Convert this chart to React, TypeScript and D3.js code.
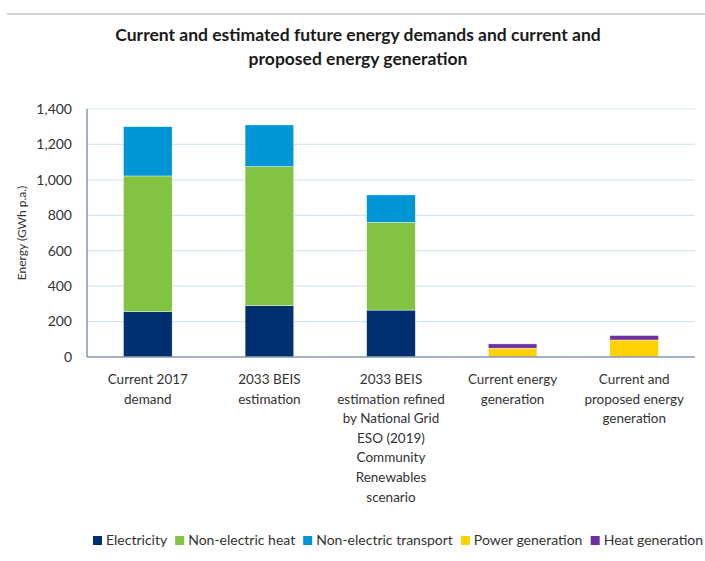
import { useMemo } from "react";
import * as d3 from "d3";

const categories = ["demand2017", "beis2033", "beisRefined", "currentGen", "proposedGen"];
const categoryLabels = [
  ["Current 2017", "demand"],
  ["2033 BEIS", "estimation"],
  ["2033 BEIS", "estimation refined", "by National Grid", "ESO (2019)", "Community", "Renewables", "scenario"],
  ["Current energy", "generation"],
  ["Current and", "proposed energy", "generation"],
];

const electricity = [256, 290, 265, 0, 0];
const nonElectricHeat = [766, 785, 495, 0, 0];
const nonElectricTransport = [278, 235, 155, 0, 0];
const powerGeneration = [0, 0, 0, 50, 96];
const heatGeneration = [0, 0, 0, 24, 25];

const seriesKeys = ["electricity", "nonElectricHeat", "nonElectricTransport", "powerGeneration", "heatGeneration"];
const seriesNames = ["Electricity", "Non-electric heat", "Non-electric transport", "Power generation", "Heat generation"];
const seriesColors = ["#003070", "#82c341", "#0096d6", "#ffd100", "#7030a0"];

const yTicks = [0, 200, 400, 600, 800, 1000, 1200, 1400];

const WIDTH = 705;
const HEIGHT = 561;
const PLOT_LEFT = 87;
const PLOT_RIGHT = 695;
const PLOT_TOP = 109;
const PLOT_BOTTOM = 357;
const FONT = "Lato, 'Open Sans', sans-serif";
const LEGEND_FONT_SIZE = 14;

function measure(text: string, font: string) {
  const canvas = document.createElement("canvas");
  const ctx = canvas.getContext("2d");
  if (!ctx) return text.length * 7;
  ctx.font = font;
  return ctx.measureText(text).width;
}

export default function App() {
  const rows = categories.map((category, i) => ({
    category,
    electricity: electricity[i],
    nonElectricHeat: nonElectricHeat[i],
    nonElectricTransport: nonElectricTransport[i],
    powerGeneration: powerGeneration[i],
    heatGeneration: heatGeneration[i],
  }));

  const x = d3.scaleBand<string>().domain(categories).range([PLOT_LEFT, PLOT_RIGHT]).paddingInner(0.6).paddingOuter(0.3);
  const y = d3.scaleLinear().domain([0, 1400]).range([PLOT_BOTTOM, PLOT_TOP]);
  const stacked = d3.stack<(typeof rows)[number]>().keys(seriesKeys)(rows);

  const legendItems = useMemo(() => {
    let cursor = 93;
    return seriesNames.map((name, i) => {
      const item = { name, color: seriesColors[i], x: cursor };
      cursor += 9 + 4 + measure(name, `${LEGEND_FONT_SIZE}px Lato`) + 8;
      return item;
    });
  }, []);

  return (
    <svg
      width={WIDTH}
      height={HEIGHT}
      style={{ position: "absolute", left: 0, top: 0, background: "#fff" }}
      fontFamily={FONT}
    >
      <line x1={7} x2={WIDTH} y1={14} y2={14} stroke="#c8c8c8" strokeWidth={1.5} />
      <text x={358} y={41} textAnchor="middle" fontSize={17.5} fontWeight="bold" fill="#1a1a1a">
        Current and estimated future energy demands and current and
      </text>
      <text x={358} y={65} textAnchor="middle" fontSize={17.5} fontWeight="bold" fill="#1a1a1a">
        proposed energy generation
      </text>

      {yTicks.map((t) => (
        <g key={t}>
          {t > 0 ? (
            <line x1={PLOT_LEFT} x2={PLOT_RIGHT} y1={y(t)} y2={y(t)} stroke="#d5e5f5" strokeWidth={1.2} />
          ) : null}
          <text x={72} y={y(t)} dy="0.35em" textAnchor="end" fontSize={14} fill="#333">
            {d3.format(",")(t)}
          </text>
        </g>
      ))}

      <text
        transform={`translate(26,${(PLOT_TOP + PLOT_BOTTOM) / 2}) rotate(-90)`}
        textAnchor="middle"
        fontSize={12}
        fill="#333"
      >
        Energy (GWh p.a.)
      </text>

      {stacked.map((layer, li) => (
        <g key={layer.key} fill={seriesColors[li]}>
          {layer.map((d) =>
            d[1] - d[0] > 0 ? (
              <rect
                key={d.data.category}
                x={x(d.data.category)}
                width={x.bandwidth()}
                y={y(d[1])}
                height={y(d[0]) - y(d[1])}
                stroke="#ffffff"
                strokeWidth={0.4}
              />
            ) : null
          )}
        </g>
      ))}

      <line x1={PLOT_LEFT} x2={PLOT_LEFT} y1={PLOT_TOP} y2={PLOT_BOTTOM} stroke="#8497b0" strokeWidth={1.5} />
      <line x1={PLOT_LEFT} x2={PLOT_RIGHT} y1={PLOT_BOTTOM} y2={PLOT_BOTTOM} stroke="#8497b0" strokeWidth={1.5} />

      {categories.map((c, i) => (
        <text
          key={c}
          x={(x(c) ?? 0) + x.bandwidth() / 2}
          y={384}
          textAnchor="middle"
          fontSize={13.5}
          fill="#333"
        >
          {categoryLabels[i].map((lineText, li) => (
            <tspan key={li} x={(x(c) ?? 0) + x.bandwidth() / 2} dy={li === 0 ? 0 : 19.6}>
              {lineText}
            </tspan>
          ))}
        </text>
      ))}

      {legendItems.map((item) => (
        <g key={item.name}>
          <rect x={item.x} y={536} width={9} height={9} fill={item.color} />
          <text x={item.x + 13} y={540.5} dy="0.35em" fontSize={LEGEND_FONT_SIZE} fill="#333">
            {item.name}
          </text>
        </g>
      ))}
    </svg>
  );
}
